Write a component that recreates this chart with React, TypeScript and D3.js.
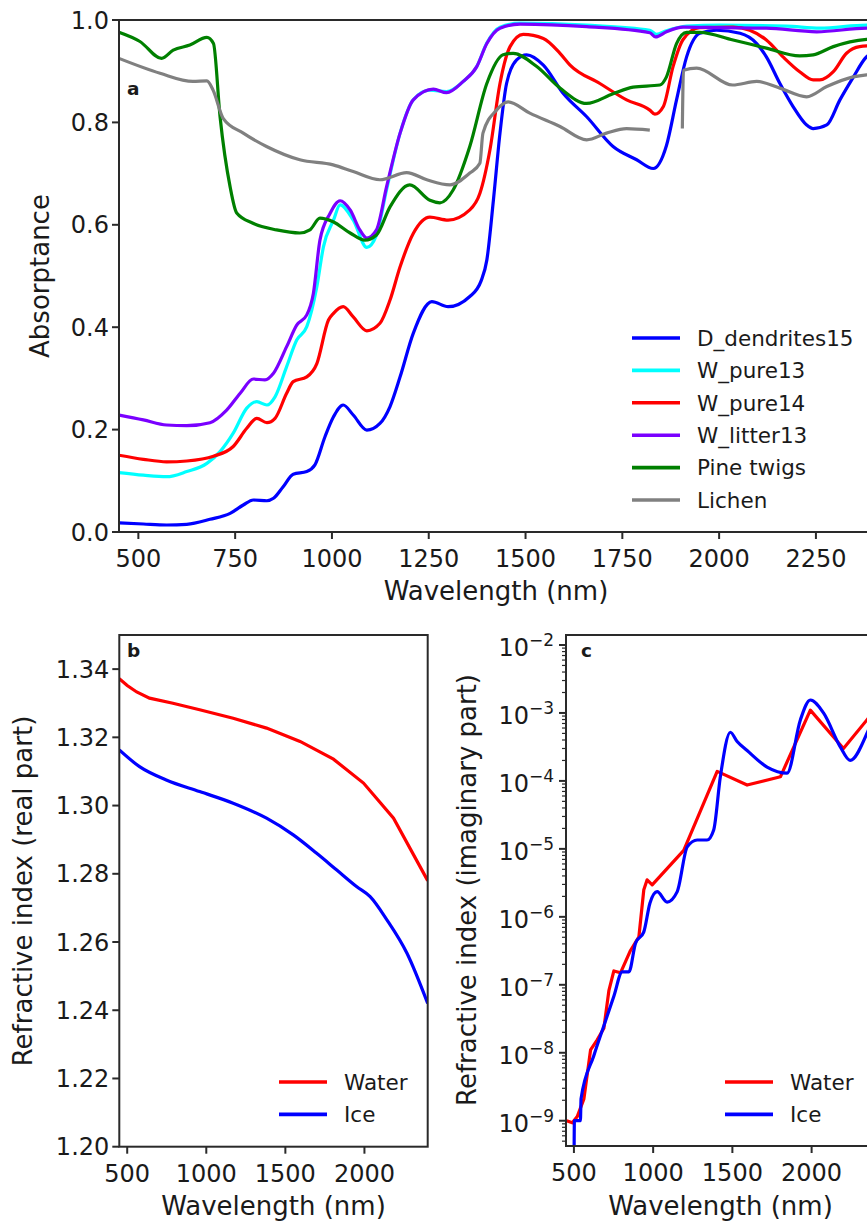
import React from 'react';
import * as d3 from 'd3';

// panel a: absorptance spectra, [wavelength nm, absorptance]
const dendrites15: [number, number][] = [
  [450, 0.018], [513, 0.0156], [573, 0.0137], [625, 0.015], [685, 0.0248], [737, 0.0365], [771, 0.0527],
  [797, 0.0625], [832, 0.061], [849, 0.0658], [874, 0.0885], [900, 0.113], [935, 0.118], [956, 0.131],
  [982, 0.186], [1004, 0.225], [1029, 0.248], [1055, 0.2285], [1090, 0.199], [1124, 0.212], [1150, 0.245],
  [1176, 0.303], [1210, 0.388], [1258, 0.45], [1300, 0.44], [1356, 0.46], [1385, 0.49], [1400, 0.531],
  [1417, 0.648], [1434, 0.779], [1451, 0.876], [1477, 0.922], [1503, 0.932], [1546, 0.912], [1597, 0.857],
  [1658, 0.811], [1726, 0.753], [1787, 0.727], [1830, 0.71], [1864, 0.755], [1890, 0.844], [1916, 0.928],
  [1950, 0.974], [1993, 0.98], [2054, 0.974], [2097, 0.954], [2122, 0.928], [2157, 0.876], [2191, 0.831],
  [2226, 0.795], [2243, 0.788], [2278, 0.795], [2312, 0.844], [2347, 0.889], [2377, 0.925], [2400, 0.94],
];
const pure13: [number, number][] = [
  [450, 0.116], [513, 0.111], [573, 0.108], [625, 0.118], [677, 0.134], [711, 0.157], [745, 0.193],
  [780, 0.242], [806, 0.2545], [832, 0.248], [853, 0.264], [883, 0.323], [909, 0.375], [935, 0.401],
  [961, 0.479], [978, 0.557], [1004, 0.609], [1021, 0.639], [1055, 0.609], [1090, 0.556], [1115, 0.58],
  [1141, 0.668], [1176, 0.779], [1210, 0.844], [1253, 0.863], [1296, 0.86], [1339, 0.88], [1374, 0.909],
  [1400, 0.955], [1434, 0.986], [1486, 0.994], [1658, 0.99], [1821, 0.98], [1838, 0.972], [1864, 0.979],
  [1916, 0.988], [2002, 0.99], [2174, 0.988], [2260, 0.984], [2381, 0.99], [2400, 0.99],
];
const pure14: [number, number][] = [
  [450, 0.15], [513, 0.142], [573, 0.137], [625, 0.1387], [694, 0.148], [745, 0.167], [780, 0.2025],
  [806, 0.222], [832, 0.2135], [853, 0.222], [883, 0.271], [900, 0.2936], [935, 0.303], [961, 0.329],
  [991, 0.414], [1004, 0.427], [1029, 0.44], [1055, 0.42], [1090, 0.393], [1124, 0.4076], [1150, 0.453],
  [1176, 0.518], [1210, 0.583], [1253, 0.615], [1300, 0.609], [1356, 0.629], [1382, 0.661], [1408, 0.746],
  [1434, 0.876], [1460, 0.948], [1494, 0.972], [1546, 0.964], [1589, 0.935], [1615, 0.912], [1692, 0.876],
  [1761, 0.844], [1821, 0.824], [1834, 0.816], [1856, 0.831], [1881, 0.909], [1907, 0.962], [1950, 0.985],
  [2036, 0.986], [2079, 0.98], [2122, 0.961], [2165, 0.928], [2208, 0.899], [2243, 0.883], [2260, 0.883],
  [2295, 0.899], [2329, 0.935], [2363, 0.948], [2400, 0.95],
];
const litter13: [number, number][] = [
  [450, 0.2285], [513, 0.219], [573, 0.209], [625, 0.2076], [685, 0.2135], [728, 0.238], [763, 0.271],
  [797, 0.2988], [827, 0.297], [849, 0.31], [883, 0.362], [909, 0.404], [935, 0.424], [952, 0.466],
  [969, 0.57], [995, 0.622], [1021, 0.647], [1047, 0.629], [1072, 0.59], [1090, 0.574], [1115, 0.59],
  [1141, 0.674], [1176, 0.779], [1210, 0.844], [1262, 0.865], [1296, 0.858], [1339, 0.88], [1374, 0.909],
  [1400, 0.954], [1434, 0.984], [1486, 0.992], [1658, 0.987], [1821, 0.975], [1836, 0.967], [1864, 0.977],
  [1907, 0.986], [2002, 0.985], [2122, 0.984], [2252, 0.977], [2381, 0.984], [2400, 0.984],
];
const pineTwigs: [number, number][] = [
  [450, 0.976], [504, 0.958], [560, 0.925], [590, 0.941], [633, 0.951], [677, 0.966], [694, 0.954],
  [711, 0.811], [737, 0.674], [754, 0.623], [796, 0.603], [857, 0.59], [917, 0.584], [943, 0.59],
  [969, 0.613], [1003, 0.606], [1047, 0.584], [1085, 0.57], [1115, 0.58], [1150, 0.635], [1201, 0.678],
  [1253, 0.648], [1279, 0.643], [1313, 0.668], [1356, 0.753], [1400, 0.876], [1442, 0.932], [1468, 0.935],
  [1529, 0.909], [1589, 0.867], [1658, 0.837], [1726, 0.856], [1778, 0.869], [1847, 0.873], [1864, 0.889],
  [1890, 0.954], [1916, 0.976], [1950, 0.976], [2036, 0.961], [2122, 0.945], [2208, 0.93], [2243, 0.932],
  [2295, 0.948], [2381, 0.962], [2400, 0.963],
];
// lichen has no data between ~1820 and ~1905 nm
const lichen: [number, number | null][] = [
  [450, 0.925], [556, 0.896], [641, 0.88], [677, 0.881], [693, 0.863], [719, 0.808], [771, 0.779],
  [831, 0.753], [917, 0.727], [1003, 0.717], [1055, 0.704], [1124, 0.688], [1193, 0.702], [1245, 0.688],
  [1305, 0.678], [1356, 0.701], [1382, 0.72], [1390, 0.779], [1425, 0.824], [1455, 0.84], [1511, 0.818],
  [1589, 0.792], [1658, 0.766], [1709, 0.779], [1761, 0.788], [1821, 0.785], [1860, null], [1905, 0.788],
  [1908, 0.902], [1942, 0.906], [2035, 0.873], [2097, 0.88], [2157, 0.867], [2226, 0.85], [2278, 0.87],
  [2346, 0.889], [2381, 0.893], [2400, 0.894],
];

const seriesA = [
  { name: 'D_dendrites15', color: '#0000ff', data: dendrites15 },
  { name: 'W_pure13', color: '#00ffff', data: pure13 },
  { name: 'W_pure14', color: '#ff0000', data: pure14 },
  { name: 'W_litter13', color: '#7a00ff', data: litter13 },
  { name: 'Pine twigs', color: '#008000', data: pineTwigs },
  { name: 'Lichen', color: '#808080', data: lichen },
];

// panel b: real part of refractive index
const waterReal: [number, number][] = [
  [450, 1.3372], [500, 1.3352], [560, 1.3333], [641, 1.3315], [789, 1.33], [958, 1.3281], [1170, 1.3256],
  [1381, 1.3227], [1593, 1.3188], [1804, 1.3136], [1994, 1.3066], [2184, 1.2963], [2400, 1.278],
];
const iceReal: [number, number][] = [
  [450, 1.3163], [578, 1.3114], [747, 1.3075], [958, 1.3041], [1170, 1.3007], [1381, 1.2963],
  [1550, 1.2914], [1698, 1.286], [1825, 1.2811], [1952, 1.2762], [2036, 1.2733], [2142, 1.2665],
  [2269, 1.2567], [2400, 1.242],
];

// panel c: imaginary part of refractive index
const waterImag: [number, number][] = [
  [454, 1.0e-9], [490, 9.3e-10], [521, 1.15e-9], [563, 2.1e-9], [605, 1.1e-8], [647, 1.55e-8],
  [689, 2.3e-8], [721, 8.3e-8], [752, 1.6e-7], [794, 1.5e-7], [857, 3.2e-7], [910, 5.1e-7],
  [941, 2.5e-6], [962, 3.5e-6], [994, 2.95e-6], [1193, 9.5e-6], [1404, 1.38e-4], [1593, 8.7e-5],
  [1803, 1.15e-4], [1992, 1.1e-3], [2201, 3.0e-4], [2349, 7.9e-4], [2400, 1.1e-3],
];
const iceImag: [number, number][] = [
  [500, 1e-10], [503, 1.0e-9], [541, 1.0e-9], [545, 2.1e-9], [626, 9.1e-9], [689, 2.5e-8],
  [752, 6.8e-8], [805, 1.55e-7], [847, 1.55e-7], [889, 4.1e-7], [941, 6.0e-7], [980, 1.6e-6],
  [1025, 2.35e-6], [1088, 1.65e-6], [1152, 2.35e-6], [1215, 1.07e-5], [1278, 1.35e-5], [1340, 1.35e-5],
  [1382, 1.9e-5], [1424, 1.15e-4], [1487, 5.2e-4], [1530, 3.8e-4], [1593, 2.8e-4], [1719, 1.6e-4],
  [1845, 1.3e-4], [1929, 7.9e-4], [1992, 1.55e-3], [2075, 1.0e-3], [2180, 3.2e-4], [2243, 2.0e-4],
  [2349, 5.0e-4], [2400, 1.0e-3],
];

const ticksA_x = [500, 750, 1000, 1250, 1500, 1750, 2000, 2250];
const ticksA_y = [0, 0.2, 0.4, 0.6, 0.8, 1.0];
const ticksBC_x = [500, 1000, 1500, 2000];
const ticksB_y = [1.2, 1.22, 1.24, 1.26, 1.28, 1.3, 1.32, 1.34];
const decadesC = [-9, -8, -7, -6, -5, -4, -3, -2];

const FONT = 'DejaVu Sans';
const INK = '#1a1a1a';
const SPINE = '#2a2a2a';

const xA = d3.scaleLinear().domain([450, 2400]).range([119, 874]);
const yA = d3.scaleLinear().domain([0, 1]).range([532, 20]);
const xB = d3.scaleLinear().domain([450, 2400]).range([119.3, 427.7]);
const yB = d3.scaleLinear().domain([1.2, 1.35]).range([1146.7, 635]);
const xC = d3.scaleLinear().domain([450, 2400]).range([566, 875]);
const yC = d3.scaleLog().domain([Math.pow(10, -9.372), Math.pow(10, -1.853)]).range([1146, 635]);

const Frame = ({ x, y }) => {
  const [l, r] = x.range();
  const [b, t] = y.range();
  return <rect x={l} y={t} width={r - l} height={b - t} fill="none" stroke={SPINE} strokeWidth={2} />;
};

const XTicks = ({ x, y, ticks }) => {
  const b = y.range()[0];
  return (
    <g>
      {ticks.map(t => (
        <g key={t}>
          <line x1={x(t)} x2={x(t)} y1={b} y2={b + 7} stroke={SPINE} strokeWidth={2} />
          <text x={x(t)} y={b + 35} textAnchor="middle" fontSize={24} fill={INK}>{t}</text>
        </g>
      ))}
    </g>
  );
};

const YTicks = ({ x, y, ticks, fmt }) => {
  const l = x.range()[0];
  return (
    <g>
      {ticks.map(t => (
        <g key={t}>
          <line x1={l - 7} x2={l} y1={y(t)} y2={y(t)} stroke={SPINE} strokeWidth={2} />
          <text x={l - 10} y={y(t)} dy="0.36em" textAnchor="end" fontSize={24} fill={INK}>{fmt(t)}</text>
        </g>
      ))}
    </g>
  );
};

const LogTicks = ({ x, y }) => {
  const l = x.range()[0];
  const [lo, hi] = y.domain();
  const minors: number[] = [];
  for (let k = -10; k <= -1; k++) {
    for (let m = 2; m <= 9; m++) {
      const v = m * Math.pow(10, k);
      if (v >= lo && v <= hi) minors.push(v);
    }
  }
  return (
    <g>
      {minors.map((v, i) => (
        <line key={i} x1={l - 4} x2={l} y1={y(v)} y2={y(v)} stroke={SPINE} strokeWidth={1.2} />
      ))}
      {decadesC.map(k => (
        <g key={k}>
          <line x1={l - 7} x2={l} y1={y(Math.pow(10, k))} y2={y(Math.pow(10, k))} stroke={SPINE} strokeWidth={2} />
          <text x={l - 12} y={y(Math.pow(10, k)) + 11.5} textAnchor="end" fontSize={24} fill={INK}>
            10<tspan dy={-10} fontSize={17}>{'\u2212' + Math.abs(k)}</tspan>
          </text>
        </g>
      ))}
    </g>
  );
};

const Legend = ({ items, x0, y0, step }) => (
  <g>
    {items.map((s, i) => (
      <g key={s.name}>
        <line x1={x0} x2={x0 + 48} y1={y0 + i * step} y2={y0 + i * step} stroke={s.color} strokeWidth={3.6} />
        <text x={x0 + 65} y={y0 + i * step} dy="0.36em" fontSize={21.5} fill={INK}>{s.name}</text>
      </g>
    ))}
  </g>
);

const clipRect = (id, x, y) => {
  const [l, r] = x.range();
  const [b, t] = y.range();
  return (
    <clipPath id={id}>
      <rect x={l} y={t} width={r - l} height={b - t} />
    </clipPath>
  );
};

export default function App() {
  const lineA = d3.line<[number, number | null]>()
    .defined(d => d[1] !== null)
    .x(d => xA(d[0]))
    .y(d => yA(d[1] as number))
    .curve(d3.curveMonotoneX);
  const lineB = (curve) => d3.line<[number, number]>().x(d => xB(d[0])).y(d => yB(d[1])).curve(curve);
  const lineC = (curve) => d3.line<[number, number]>().x(d => xC(d[0])).y(d => yC(d[1])).curve(curve);

  return (
    <svg width={867} height={1221} style={{ position: 'absolute', left: 0, top: 0, background: '#fff' }}
      fontFamily={FONT}>
      <defs>
        {clipRect('clipA', xA, yA)}
        {clipRect('clipB', xB, yB)}
        {clipRect('clipC', xC, yC)}
      </defs>

      {/* panel a */}
      <g clipPath="url(#clipA)">
        {seriesA.map(s => (
          <path key={s.name} d={lineA(s.data) || ''} fill="none" stroke={s.color} strokeWidth={3.2}
            strokeLinejoin="round" />
        ))}
      </g>
      <Frame x={xA} y={yA} />
      <XTicks x={xA} y={yA} ticks={ticksA_x} />
      <YTicks x={xA} y={yA} ticks={ticksA_y} fmt={d3.format('.1f')} />
      <text x={127} y={95} fontSize={18.5} fontWeight="bold" fill={INK}>a</text>
      <Legend items={seriesA} x0={632} y0={338} step={32.4} />
      <text x={496} y={600} textAnchor="middle" fontSize={26} fill={INK}>Wavelength (nm)</text>
      <text transform="translate(49,276) rotate(-90)" textAnchor="middle" fontSize={26} fill={INK}>Absorptance</text>

      {/* panel b */}
      <g clipPath="url(#clipB)">
        <path d={lineB(d3.curveLinear)(waterReal) || ''} fill="none" stroke="#ff0000" strokeWidth={3.2} />
        <path d={lineB(d3.curveMonotoneX)(iceReal) || ''} fill="none" stroke="#0000ff" strokeWidth={3.2} />
      </g>
      <Frame x={xB} y={yB} />
      <XTicks x={xB} y={yB} ticks={ticksBC_x} />
      <YTicks x={xB} y={yB} ticks={ticksB_y} fmt={d3.format('.2f')} />
      <text x={127} y={657} fontSize={18.5} fontWeight="bold" fill={INK}>b</text>
      <Legend items={[{ name: 'Water', color: '#ff0000' }, { name: 'Ice', color: '#0000ff' }]}
        x0={279} y0={1082} step={32.4} />
      <text x={273.5} y={1215} textAnchor="middle" fontSize={26} fill={INK}>Wavelength (nm)</text>
      <text transform="translate(32,891) rotate(-90)" textAnchor="middle" fontSize={26} fill={INK}>
        Refractive index (real part)
      </text>

      {/* panel c */}
      <g clipPath="url(#clipC)">
        <path d={lineC(d3.curveLinear)(waterImag) || ''} fill="none" stroke="#ff0000" strokeWidth={3.2}
          strokeLinejoin="round" />
        <path d={lineC(d3.curveMonotoneX)(iceImag) || ''} fill="none" stroke="#0000ff" strokeWidth={3.2}
          strokeLinejoin="round" />
      </g>
      <Frame x={xC} y={yC} />
      <XTicks x={xC} y={yC} ticks={ticksBC_x} />
      <LogTicks x={xC} y={yC} />
      <text x={581} y={657} fontSize={18.5} fontWeight="bold" fill={INK}>c</text>
      <Legend items={[{ name: 'Water', color: '#ff0000' }, { name: 'Ice', color: '#0000ff' }]}
        x0={725} y0={1082} step={32.4} />
      <text x={720.5} y={1215} textAnchor="middle" fontSize={26} fill={INK}>Wavelength (nm)</text>
      <text transform="translate(476,890) rotate(-90)" textAnchor="middle" fontSize={26} fill={INK}>
        Refractive index (imaginary part)
      </text>
    </svg>
  );
}
